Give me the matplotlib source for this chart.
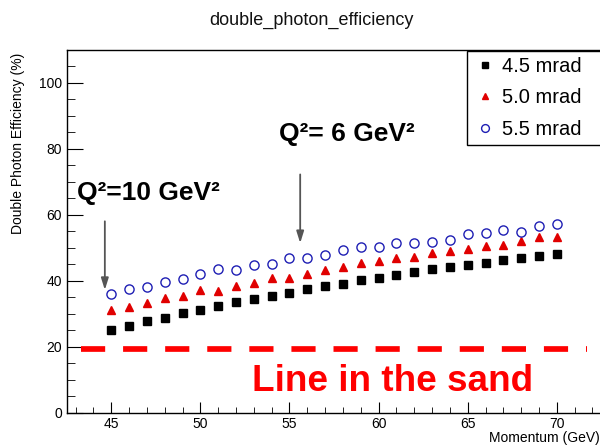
import numpy as np
import matplotlib
matplotlib.use("Agg")
import matplotlib.pyplot as plt
from matplotlib.ticker import MultipleLocator

plt.rcParams['font.family'] = ['Liberation Sans', 'DejaVu Sans']

momentum = np.arange(45, 71)
eff_45 = [25.2, 26.4, 27.8, 28.8, 30.2, 31.0, 32.2, 33.4, 34.6, 35.3, 36.4, 37.4, 38.3,
          39.1, 40.1, 40.9, 41.7, 42.6, 43.5, 44.1, 44.9, 45.5, 46.4, 47.0, 47.5, 48.2]
eff_50 = [31.1, 31.9, 33.1, 34.8, 35.4, 37.2, 37.0, 38.4, 39.2, 40.9, 40.7, 42.0, 43.3,
          44.1, 45.3, 45.9, 46.8, 47.3, 48.5, 48.9, 49.7, 50.5, 50.8, 52.0, 53.3, 53.1]
eff_55 = [36.1, 37.5, 38.2, 39.6, 40.5, 41.9, 43.4, 43.1, 44.8, 45.1, 46.8, 46.8, 47.9,
          49.3, 50.1, 50.3, 51.5, 51.3, 51.8, 52.4, 54.1, 54.6, 55.3, 54.9, 56.5, 57.3]
labels = ['4.5 mrad', '5.0 mrad', '5.5 mrad']

sand_level = 19.2
sand_x = [43.3, 71.7]
arrow_q10 = (44.64, 58.0, 37.2)
arrow_q6 = (55.6, 72.2, 51.4)

fig = plt.figure(figsize=(6.0, 4.46), dpi=100)
ax = fig.add_axes([66.7 / 600, 33.3 / 446, 534.7 / 600, 363.0 / 446])

ax.plot(sand_x, [sand_level, sand_level], color='#ff0000', lw=4.1,
        dashes=(17.4 / 4.1, 12.9 / 4.1), solid_capstyle='butt', dash_capstyle='butt')

h1, = ax.plot(momentum, eff_45, 's', color='black', ms=5.6, label=labels[0])
h2, = ax.plot(momentum, eff_50, '^', color='#e00000', ms=5.8, mec='#e00000', label=labels[1])
h3, = ax.plot(momentum, eff_55, 'o', mfc='none', mec='#1e1eb4', mew=1.0, ms=6.6, label=labels[2])

for xa, y0, y1 in [arrow_q10, arrow_q6]:
    ax.annotate('', xy=(xa, y1), xytext=(xa, y0),
                arrowprops=dict(arrowstyle='-|>,head_length=0.7,head_width=0.22',
                                color='#555555', lw=1.3, shrinkA=0, shrinkB=0))

ax.text(43.09, 66.6, 'Q\u00b2=10 GeV\u00b2', fontsize=19, fontweight='bold', va='center', ha='left')
ax.text(54.43, 84.6, 'Q\u00b2= 6 GeV\u00b2', fontsize=19, fontweight='bold', va='center', ha='left')
ax.text(52.9, 9.4, 'Line in the sand', fontsize=26.6, fontweight='bold', color='#ff0000',
        va='center', ha='left')

ax.set_xlim(42.5, 72.5)
ax.set_ylim(0, 110)
ax.xaxis.set_major_locator(MultipleLocator(5))
ax.xaxis.set_minor_locator(MultipleLocator(1))
ax.yaxis.set_major_locator(MultipleLocator(20))
ax.yaxis.set_minor_locator(MultipleLocator(5))
ax.tick_params(which='both', direction='in', top=False, right=False, labelsize=10)
ax.tick_params(axis='x', which='major', length=8, pad=3)
ax.tick_params(axis='x', which='minor', length=4.3)
ax.tick_params(axis='y', which='major', length=11.5, pad=3.5)
ax.tick_params(axis='y', which='minor', length=6)
for s in ax.spines.values():
    s.set_linewidth(1.0)

leg = ax.legend(handles=[h1, h2, h3], loc='upper left',
                bbox_to_anchor=(466.7 / 600, 1 - 140.7 / 446, 135 / 600, 90 / 446),
                bbox_transform=fig.transFigure, mode='expand', borderaxespad=0,
                fontsize=14.5, numpoints=1, markerscale=0.85, labelspacing=0.62,
                borderpad=0.3, handlelength=1.25, handletextpad=0.2,
                fancybox=False, framealpha=1, edgecolor='black')
leg.get_frame().set_linewidth(1.0)

fig.text(209.3 / 600, 1 - 25 / 446, 'double_photon_efficiency', fontsize=13, color='#111111',
         ha='left', va='baseline')
fig.text(18 / 600, 1 - 53 / 446, 'Double Photon Efficiency (%)', fontsize=10, rotation=90,
         ha='center', va='top')
fig.text(599.5 / 600, 1 - 442 / 446, 'Momentum (GeV)', fontsize=10, ha='right', va='baseline')

fig.savefig('out.png', dpi=100)
